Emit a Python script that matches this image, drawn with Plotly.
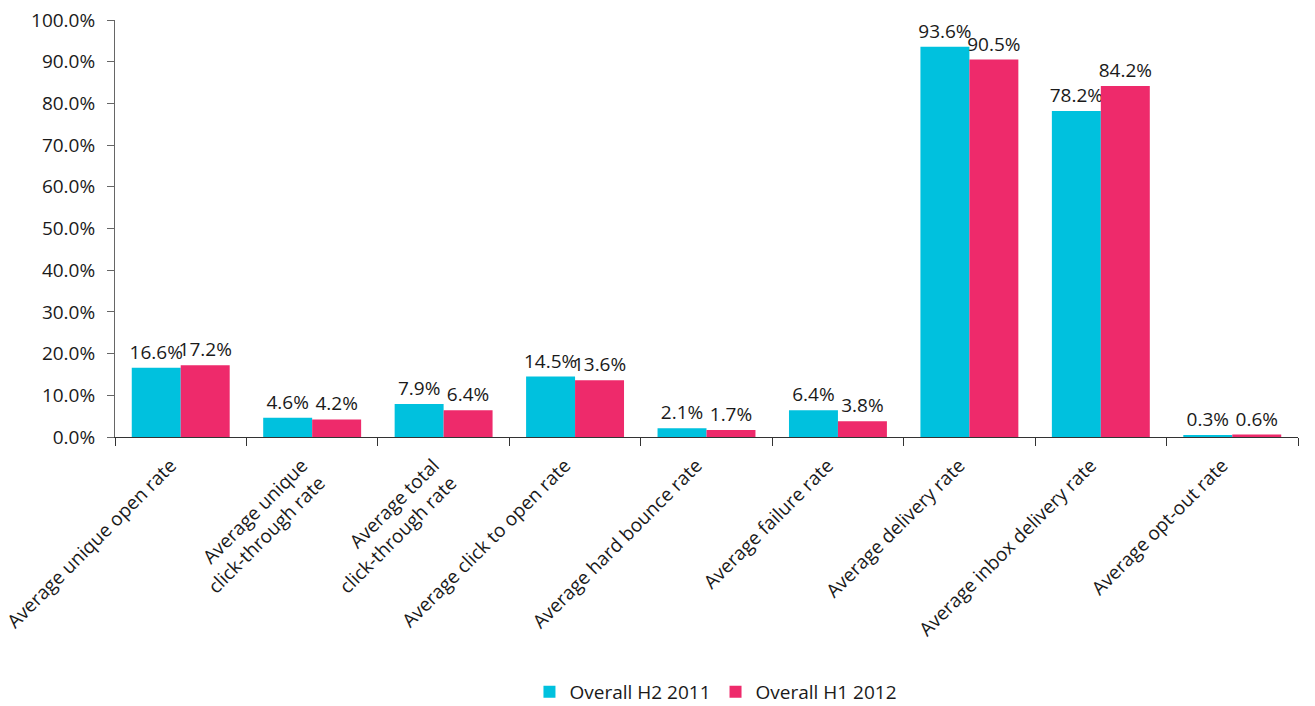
import plotly.graph_objects as go

categories = [
    "Average unique open rate",
    "Average unique<br>click-through rate",
    "Average total<br>click-through rate",
    "Average click to open rate",
    "Average hard bounce rate",
    "Average failure rate",
    "Average delivery rate",
    "Average inbox delivery rate",
    "Average opt-out rate",
]
h2_2011 = [16.6, 4.6, 7.9, 14.5, 2.1, 6.4, 93.6, 78.2, 0.3]
h1_2012 = [17.2, 4.2, 6.4, 13.6, 1.7, 3.8, 90.5, 84.2, 0.6]
y_ticks = [0, 10, 20, 30, 40, 50, 60, 70, 80, 90, 100]

FONT = "Open Sans"
SIZE = 19
TXT = dict(family=FONT, size=SIZE, color="#1a1a1a")

fig = go.Figure()
fig.add_trace(go.Bar(
    name="Overall H2 2011", x=categories, y=h2_2011,
    marker=dict(color="#00C1DE", line=dict(width=0)),
    texttemplate="%{y:.1f}%", textposition="outside",
    textfont=TXT, constraintext="none", cliponaxis=False,
))
fig.add_trace(go.Bar(
    name="Overall H1 2012", x=categories, y=h1_2012,
    marker=dict(color="#EE2A6B", line=dict(width=0)),
    texttemplate="%{y:.1f}%", textposition="outside",
    textfont=TXT, constraintext="none", cliponaxis=False,
))

fig.update_layout(
    width=1315, height=706,
    margin=dict(l=115, r=17, t=20, b=269, autoexpand=False),
    paper_bgcolor="white", plot_bgcolor="white",
    barmode="group", bargap=0.255, bargroupgap=0,
    font=dict(family=FONT, size=SIZE, color="#1a1a1a"),
    showlegend=True,
    legend=dict(
        orientation="h", x=0.508, xanchor="center", y=-0.611, yanchor="middle",
        font=dict(family=FONT, size=SIZE, color="#1a1a1a"),
        itemwidth=30, traceorder="normal",
    ),
    xaxis=dict(
        tickangle=-45, tickson="boundaries", ticks="outside", ticklen=8,
        tickcolor="#333", showline=True, linecolor="#333", linewidth=1,
        tickfont=dict(family=FONT, size=SIZE, color="#1a1a1a"),
        ticklabelstandoff=9, ticklabelshift=-10,
        automargin=False, showgrid=False,
    ),
    yaxis=dict(
        range=[0, 100], tickvals=y_ticks,
        ticktext=[f"{v:.1f}%" for v in y_ticks],
        ticks="outside", ticklen=7, tickcolor="#666",
        showline=True, linecolor="#666", linewidth=1,
        showgrid=False, zeroline=False,
        tickfont=dict(family=FONT, size=SIZE, color="#1a1a1a"),
        ticklabelstandoff=8,
        automargin=False,
    ),
)

fig.write_html("out.html")
